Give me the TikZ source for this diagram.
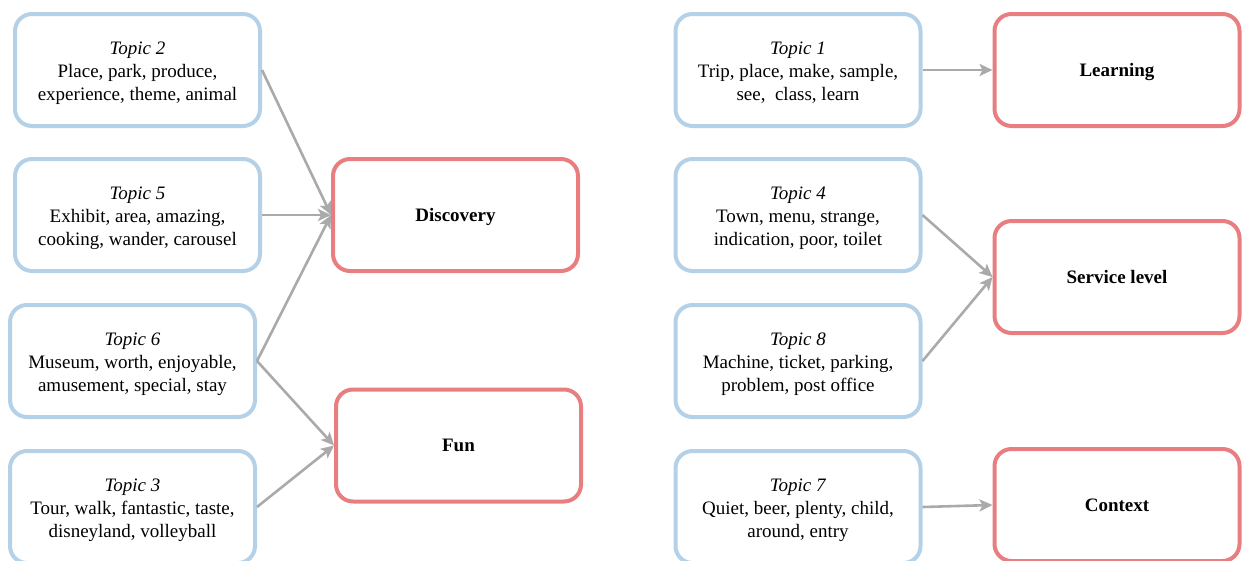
\documentclass[tikz,border=0pt]{standalone}
\usepackage{fontspec}
\setmainfont{Liberation Serif}
\usetikzlibrary{arrows.meta}
\definecolor{topicblue}{RGB}{180,209,232}
\definecolor{themered}{RGB}{232,126,128}
\definecolor{linkgray}{RGB}{170,170,170}
\tikzset{
  box/.style={rounded corners=17pt, line width=4pt, minimum width=245pt,
    minimum height=112pt, align=center, inner sep=2pt,
    font=\fontsize{19}{23}\selectfont},
  topic/.style={box, draw=topicblue, text height=63pt, text depth=3pt},
  theme/.style={box, draw=themered, font=\fontsize{19}{23}\selectfont\bfseries,
    text height=15pt, text depth=3pt},
  link/.style={draw=linkgray, line width=2.6pt,
    -{Stealth[length=13pt,width=12pt,inset=3pt]}}
}
\begin{document}
\begin{tikzpicture}[x=1pt,y=-1pt]
\useasboundingbox (0,0) rectangle (1248,560);
\clip (0,0) rectangle (1248,560);

% topic boxes, left half
\node[topic] (t2) at (137.5,70) {\textit{Topic 2}\\Place, park, produce,\\experience, theme, animal};
\node[topic] (t5) at (137.5,215) {\textit{Topic 5}\\Exhibit, area, amazing,\\cooking, wander, carousel};
\node[topic] (t6) at (132.5,361) {\textit{Topic 6}\\Museum, worth, enjoyable,\\amusement, special, stay};
\node[topic] (t3) at (132.5,507) {\textit{Topic 3}\\Tour, walk, fantastic, taste,\\disneyland, volleyball};

% theme boxes, left half
\node[theme] (disc) at (455.5,215) {Discovery};
\node[theme] (fun) at (458.5,445.5) {Fun};

% topic boxes, right half
\node[topic] (t1) at (798,70) {\textit{Topic 1}\\Trip, place, make, sample,\\see,\ \ class, learn};
\node[topic] (t4) at (798,215) {\textit{Topic 4}\\Town, menu, strange,\\indication, poor, toilet};
\node[topic] (t8) at (798,361) {\textit{Topic 8}\\Machine, ticket, parking,\\problem, post office};
\node[topic] (t7) at (798,507) {\textit{Topic 7}\\Quiet, beer, plenty, child,\\around, entry};

% theme boxes, right half
\node[theme] (learn) at (1117,70) {Learning};
\node[theme] (serv) at (1117,277) {Service level};
\node[theme] (ctx) at (1117,505) {Context};

% links from topics to themes
\draw[link] (t2.east) -- (disc.west);
\draw[link] (t5.east) -- (disc.west);
\draw[link] (t6.east) -- (disc.west);
\draw[link] (t6.east) -- (fun.west);
\draw[link] (t3.east) -- (fun.west);
\draw[link] (t1.east) -- (learn.west);
\draw[link] (t4.east) -- (serv.west);
\draw[link] (t8.east) -- (serv.west);
\draw[link] (t7.east) -- (ctx.west);
\end{tikzpicture}
\end{document}
